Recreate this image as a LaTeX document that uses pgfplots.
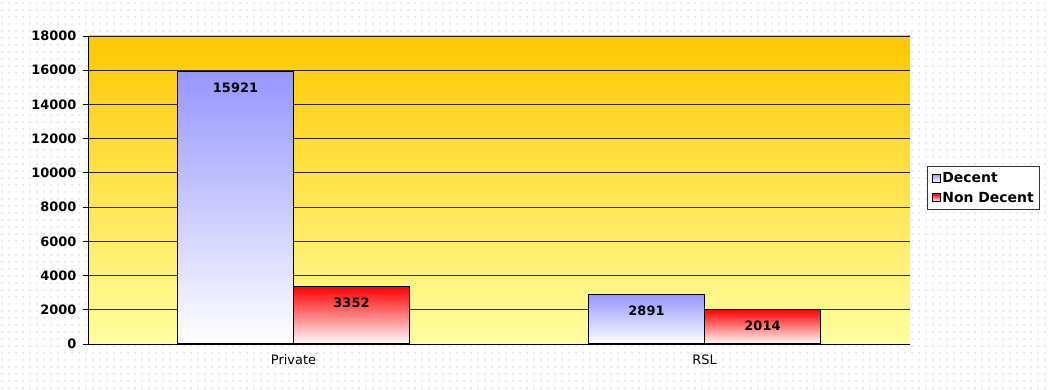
\documentclass[border=0pt]{standalone}
\usepackage{pgfplots}
\pgfplotsset{compat=1.18}
\usepackage{fontspec}
\setmainfont{DejaVu Sans}
\usetikzlibrary{patterns.meta}

\definecolor{bgtop}{RGB}{255,200,0}
\definecolor{bgbot}{RGB}{255,255,160}
\definecolor{decent}{RGB}{150,150,255}
\definecolor{nondecent}{RGB}{255,0,0}

% faint dot texture of the sheet
\tikzdeclarepattern{
  name=sheetdots,
  type=uncolored,
  bounding box={(0,0) and (7bp,7bp)},
  tile size={(7bp,7bp)},
  code={\fill (3.5bp,3.5bp) circle (0.75bp);}
}

\pgfplotsset{
  decentbar/.style={draw=black, line width=1.3pt, shade, top color=decent, bottom color=white,
    bar shift=-58bp},
  nondecentbar/.style={draw=black, line width=1.3pt, shade, top color=nondecent, bottom color=white,
    bar shift=58bp},
}

\begin{document}
\begin{tikzpicture}
  \fill[white] (0bp,0bp) rectangle (1051bp,390bp);
  \fill[pattern=sheetdots, pattern color=black!30] (0bp,0bp) rectangle (1051bp,390bp);
  \begin{axis}[
    at={(88bp,46bp)}, anchor=south west,
    scale only axis,
    width=822bp, height=308bp,
    ymin=0, ymax=18000,
    xmin=-0.5, xmax=1.5,
    ytick={0,2000,...,18000},
    xtick={0,1},
    xticklabels={Private,RSL},
    extra x ticks={-0.5,0.5,1.5},
    extra x tick labels={},
    extra x tick style={major tick length=5bp, tick style={black, line width=0.9pt}},
    major x tick style={draw=none},
    tick align=outside,
    major tick length=5bp,
    y tick style={black, line width=0.9pt},
    ymajorgrids,
    grid style={black!85, line width=0.9pt},
    axis x line*=bottom,
    axis y line*=left,
    axis line style={black, line width=1pt, -},
    axis background/.style={shade, top color=bgtop, bottom color=bgbot},
    scaled y ticks=false,
    /pgf/number format/assume math mode=true,
    yticklabel style={font=\fontsize{13}{15}\selectfont\bfseries, xshift=-3bp,
      /pgf/number format/1000 sep={}},
    xticklabel style={font=\fontsize{13}{15}\selectfont, yshift=-2bp},
    ybar=0pt, bar width=116bp,
    nodes near coords,
    nodes near coords style={anchor=north, yshift=-7bp, font=\fontsize{13}{15}\selectfont\bfseries,
      /pgf/number format/1000 sep={}},
    legend style={at={(1.021,0.578)}, anchor=north west, draw=black!80, line width=0.8pt,
      font=\fontsize{14}{16}\selectfont\bfseries, inner xsep=4bp, inner ysep=4bp, row sep=4bp,
      fill=white},
    legend cell align=left,
  ]
    % each bar on its own, so that its shading spans just that bar
    \addplot[decentbar,
      legend image code/.code={\draw[black, line width=0.7pt, top color=decent, bottom color=white]
        (0bp,-4bp) rectangle (8bp,4bp);}]
      coordinates {(0,15921)};
    \addplot[nondecentbar,
      legend image code/.code={\draw[black, line width=0.7pt, top color=nondecent, bottom color=white]
        (0bp,-4bp) rectangle (8bp,4bp);}]
      coordinates {(0,3352)};
    \addplot[decentbar, forget plot] coordinates {(1,2891)};
    \addplot[nondecentbar, forget plot] coordinates {(1,2014)};
    \legend{Decent, Non Decent}
  \end{axis}
\end{tikzpicture}
\end{document}
